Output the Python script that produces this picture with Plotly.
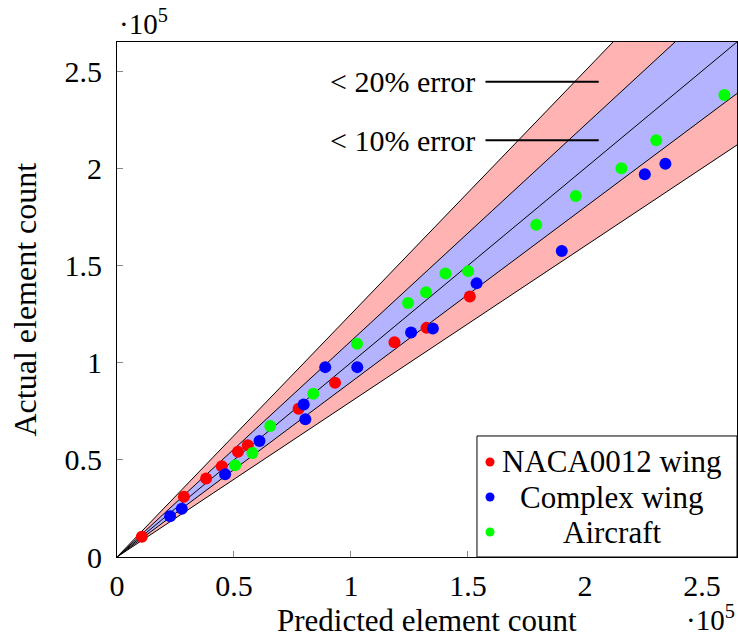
import plotly.graph_objects as go

# values in units of 1e5 elements
naca_pred = [0.106, 0.286, 0.381, 0.448, 0.517, 0.559, 0.776, 0.932, 1.186, 1.323, 1.508]
naca_act = [0.104, 0.310, 0.404, 0.467, 0.541, 0.575, 0.763, 0.897, 1.105, 1.179, 1.340]

complex_pred = [0.227, 0.277, 0.462, 0.609, 0.798, 0.805, 0.890, 1.027, 1.257, 1.350, 1.537, 1.901, 2.256, 2.344]
complex_act = [0.210, 0.248, 0.426, 0.597, 0.785, 0.709, 0.977, 0.977, 1.155, 1.176, 1.408, 1.574, 1.970, 2.024]

aircraft_pred = [0.505, 0.579, 0.655, 0.839, 1.026, 1.244, 1.321, 1.404, 1.501, 1.792, 1.961, 2.156, 2.305, 2.596]
aircraft_act = [0.472, 0.535, 0.674, 0.840, 1.097, 1.307, 1.362, 1.459, 1.471, 1.709, 1.857, 2.000, 2.144, 2.377]

series_names = ["NACA0012 wing", "Complex wing", "Aircraft"]
series_colors = ["#FF0000", "#0000FF", "#00FF00"]

tick_vals = [0, 0.5, 1, 1.5, 2, 2.5]
tick_text = ["0", "0.5", "1", "1.5", "2", "2.5"]

axis_max = 2.65
band_slopes_20 = [1 / 0.8, 0.8]
band_slopes_10 = [1 / 0.9, 0.9]
line_slopes = [1 / 0.8, 1 / 0.9, 1.0, 0.9, 0.8]

FONT = "Liberation Serif"
X_END = 3.0

fig = go.Figure()

# error bands
for slopes, color in [(band_slopes_20, "#FFB3B3"), (band_slopes_10, "#B3B3FF")]:
    fig.add_trace(go.Scatter(
        x=[0, X_END, X_END, 0], y=[0, slopes[0] * X_END, slopes[1] * X_END, 0],
        fill="toself", fillcolor=color, mode="none", hoverinfo="skip", showlegend=False))

for k in line_slopes:
    fig.add_trace(go.Scatter(x=[0, X_END], y=[0, k * X_END], mode="lines",
                             line=dict(color="black", width=1), hoverinfo="skip", showlegend=False))

for name, xs, ys, c in zip(series_names,
                           [naca_pred, complex_pred, aircraft_pred],
                           [naca_act, complex_act, aircraft_act],
                           series_colors):
    fig.add_trace(go.Scatter(x=xs, y=ys, mode="markers", name=name,
                             marker=dict(color=c, size=12, line=dict(width=0)),
                             showlegend=False))

# annotation lines for error labels
for yv in [2.445, 2.144]:
    fig.add_shape(type="line", x0=1.575, x1=2.059, y0=yv, y1=yv, xref="x", yref="y",
                  line=dict(color="black", width=2))

annos = [
    dict(x=1.54, y=2.445, xref="x", yref="y", text="&lt; 20% error", showarrow=False,
         xanchor="right", yanchor="middle", font=dict(family=FONT, size=30, color="black")),
    dict(x=1.54, y=2.144, xref="x", yref="y", text="&lt; 10% error", showarrow=False,
         xanchor="right", yanchor="middle", font=dict(family=FONT, size=30, color="black")),
    dict(x=0.5, y=-0.124, xref="paper", yref="paper", text="Predicted element count",
         showarrow=False, xanchor="center", yanchor="middle",
         font=dict(family=FONT, size=31, color="black")),
    dict(x=-0.15, y=0.5, xref="paper", yref="paper", text="Actual element count",
         showarrow=False, xanchor="center", yanchor="middle", textangle=-90,
         font=dict(family=FONT, size=32, color="black")),
    dict(x=0.0, y=1.0, xref="paper", yref="paper", text="·10<sup>5</sup>", showarrow=False,
         xanchor="left", yanchor="bottom", yshift=0,
         font=dict(family=FONT, size=29, color="black")),
    dict(x=1.0, y=-0.118, xref="paper", yref="paper", text="·10<sup>5</sup>", showarrow=False,
         xanchor="right", yanchor="middle",
         font=dict(family=FONT, size=29, color="black")),
]

# custom legend
px_w, px_h = 620.0, 515.0
fig.add_shape(type="rect", xref="paper", yref="paper", x0=0.5806, x1=1.0, y0=0.0, y1=0.235,
              fillcolor="white", line=dict(color="black", width=1), layer="above")
rows = [0.1845, 0.1165, 0.0485]
mx = 0.6016
r = 4.5
for name, c, ry in zip(series_names, series_colors, rows):
    fig.add_shape(type="circle", xref="paper", yref="paper",
                  x0=mx - r / px_w, x1=mx + r / px_w, y0=ry - r / px_h, y1=ry + r / px_h,
                  fillcolor=c, line=dict(width=0), layer="above")
    annos.append(dict(x=0.798, y=ry, xref="paper", yref="paper", text=name, showarrow=False,
                      xanchor="center", yanchor="middle",
                      font=dict(family=FONT, size=31, color="black")))

axis_common = dict(range=[0, axis_max], tickvals=tick_vals, ticktext=tick_text,
                   ticks="inside", ticklen=6, tickcolor="#888", showgrid=False, zeroline=False,
                   showline=True, linecolor="black", linewidth=1, mirror=True,
                   tickfont=dict(family=FONT, size=30, color="black"))

fig.update_layout(
    width=738, height=639, autosize=False,
    margin=dict(l=117, r=1, t=42, b=82),
    plot_bgcolor="white", paper_bgcolor="white",
    xaxis=dict(**axis_common, ticklabelstandoff=2),
    yaxis=dict(**axis_common, ticklabelstandoff=8),
    annotations=annos,
    showlegend=False,
)

fig.write_html("out.html", config={"displayModeBar": False},
               post_script="document.body.style.margin='0px';document.body.style.overflow='hidden';")
